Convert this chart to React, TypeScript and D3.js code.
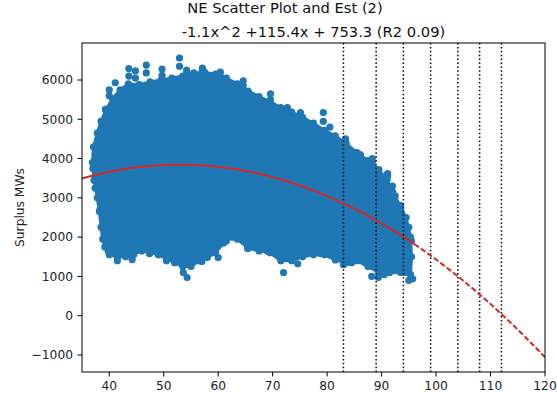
import React from "react";
import * as d3 from "d3";

// ---- data ----
const titleLine1 = "NE Scatter Plot and Est (2)";
const titleLine2 = "-1.1x^2 +115.4x + 753.3 (R2 0.09)";
const yLabel = "Surplus MWs";

const xLimits = [35, 120];
const yLimits = [-1433, 6942];
const xTicks = [40, 50, 60, 70, 80, 90, 100, 110, 120];
const yTicks = [-1000, 0, 1000, 2000, 3000, 4000, 5000, 6000];

// vertical dotted reference lines
const refLines = [83, 89, 94, 99, 104, 108, 112];

// quadratic fit coefficients (as drawn)
const fitCoef = [-1.09, 115.4, 790];
const fitSolidRange = [35, 96];
const fitDashedRange = [96, 120];

// envelope of the dense cloud of points: upper edge (left to right)
const cloudUpperX = [36.9, 37.1, 37.8, 38.5, 39.4, 40.6, 42.0, 43.5, 45.5, 47.5, 49.5, 51.5, 53.5, 55.5, 57.5, 59.5, 61.5, 63.5, 65.5, 67.5, 69.5, 71.5, 73.5, 75.5, 77.5, 79.5, 81.5, 83.5, 85.5, 87.5, 89.5, 91.0, 92.5, 93.5, 94.5, 95.3, 95.5];
const cloudUpperY = [3900, 4300, 4650, 4950, 5250, 5520, 5750, 5900, 5880, 5950, 6000, 6050, 6100, 6180, 6200, 6150, 6050, 5900, 5720, 5580, 5450, 5300, 5180, 5050, 4900, 4720, 4580, 4380, 4150, 3950, 3720, 3450, 3050, 2750, 2500, 2000, 1500];
// lower edge (right to left)
const cloudLowerX = [95.3, 93.5, 91.5, 89.5, 87.5, 85.5, 83.5, 81.5, 79.5, 77.5, 75.5, 73.5, 71.5, 69.5, 67.5, 65.5, 63.5, 62.0, 61.0, 59.5, 58.0, 56.5, 55.0, 53.5, 52.0, 50.5, 49.0, 47.5, 46.0, 44.5, 43.0, 41.5, 40.0, 39.2, 38.8, 38.5, 38.2, 37.8, 37.2];
const cloudLowerY = [1050, 1100, 1100, 1100, 1250, 1400, 1350, 1420, 1550, 1550, 1500, 1400, 1400, 1600, 1650, 1720, 1950, 2000, 1850, 1600, 1480, 1400, 1250, 1250, 1350, 1450, 1550, 1620, 1650, 1560, 1500, 1500, 1550, 1750, 1950, 2250, 2650, 3000, 3450];

// individual points around the edge of the cloud
const edgeX = [41.1, 43.6, 44.8, 46.8, 52.9, 49.7, 54.2, 57.1, 40.0, 60.4, 64.6, 65.4, 67.4, 69.6, 72.7, 75.1, 79.3, 83.4, 86.1, 88.3, 91.1, 93.5, 92.0, 95.0, 95.5,
  95.7, 95.0, 94.2, 89.4, 88.2, 72.0, 54.3, 53.6, 41.5, 44.2, 47.4, 65.4, 74.6, 69.0, 78.8, 60.0, 57.0, 50.5, 39.8, 83.0, 85.0,
  43.6, 44.8, 46.8, 52.9, 49.7, 54.2, 57.1, 39.3, 40.0, 60.4, 64.6, 69.6, 72.7, 79.3, 80.5, 83.4, 86.1, 88.3, 91.1, 93.5, 92.0,
  37.0, 37.4, 38.3, 90.5, 93.0, 84.5, 61.5, 62.8];
const edgeY = [5930, 6290, 6230, 6380, 6560, 6280, 6250, 6300, 5750, 6200, 5980, 5680, 5550, 5650, 5300, 5170, 5170, 4505, 4100, 4000, 3620, 2800, 3300, 2250, 1900,
  940, 900, 1100, 970, 1000, 1100, 970, 1100, 1400, 1430, 1580, 1710, 1320, 1650, 1580, 1480, 1380, 1400, 1650, 1300, 1480,
  6100, 6050, 6180, 6350, 6120, 6150, 6250, 5250, 5600, 6100, 5850, 5500, 5200, 4950, 4800, 4420, 4050, 3900, 3550, 2700, 3150,
  3750, 3250, 2700, 1050, 1150, 1350, 1900, 2000];

// ---- layout ----
const W = 557;
const H = 393;
const left = 82;
const right = 545;
const top = 43;
const bottom = 372;
const FONT = "DejaVu Sans, sans-serif";
const BLUE = "#1f77b4";
const RED = "#d62728";

export default function App() {
  const x = d3.scaleLinear().domain(xLimits).range([left, right]);
  const y = d3.scaleLinear().domain(yLimits).range([bottom, top]);

  const cloudPts: [number, number][] = [
    ...cloudUpperX.map((v, i) => [v, cloudUpperY[i]] as [number, number]),
    ...cloudLowerX.map((v, i) => [v, cloudLowerY[i]] as [number, number]),
  ];
  const cloudPath = d3
    .line<[number, number]>()
    .x((d) => x(d[0]))
    .y((d) => y(d[1]))
    .curve(d3.curveLinearClosed)(cloudPts) || "";

  const fit = (v: number) => fitCoef[0] * v * v + fitCoef[1] * v + fitCoef[2];
  const lineGen = d3
    .line<number>()
    .x((d) => x(d))
    .y((d) => y(fit(d)));
  const solidXs = d3.range(fitSolidRange[0], fitSolidRange[1] + 0.001, 0.5);
  const dashedXs = d3.range(fitDashedRange[0], fitDashedRange[1] + 0.001, 0.5);

  return (
    <svg
      width={W}
      height={H}
      style={{ position: "absolute", left: 0, top: 0, background: "#fff" }}
      fontFamily={FONT}
    >
      <defs>
        <clipPath id="plotClip">
          <rect x={left} y={top} width={right - left} height={bottom - top} />
        </clipPath>
      </defs>
      <rect x={0} y={0} width={W} height={H} fill="#fff" />

      <text x={285} y={13} fontSize={14.7} textAnchor="middle" fill="#111">
        {titleLine1}
      </text>
      <text x={(left + right) / 2} y={36.5} fontSize={14.7} textAnchor="middle" fill="#111">
        {titleLine2}
      </text>

      <g clipPath="url(#plotClip)">
        <path d={cloudPath} fill={BLUE} stroke={BLUE} strokeWidth={3} strokeLinejoin="round" />
        {cloudPts.map((p, i) => (
          <circle key={"c" + i} cx={x(p[0])} cy={y(p[1])} r={3.6} fill={BLUE} />
        ))}
        {edgeX.map((v, i) => (
          <circle key={i} cx={x(v)} cy={y(edgeY[i])} r={3.6} fill={BLUE} />
        ))}
        {refLines.map((v) => (
          <line
            key={v}
            x1={x(v)}
            x2={x(v)}
            y1={top}
            y2={bottom}
            stroke="#000"
            strokeWidth={1.5}
            strokeDasharray="1.5,2.4"
          />
        ))}
        <path d={lineGen(solidXs) || ""} fill="none" stroke={RED} strokeWidth={2} />
        <path
          d={lineGen(dashedXs) || ""}
          fill="none"
          stroke={RED}
          strokeWidth={2}
          strokeDasharray="5.5,2.5"
        />
      </g>

      <rect
        x={left}
        y={top}
        width={right - left}
        height={bottom - top}
        fill="none"
        stroke="#000"
        strokeWidth={1}
      />

      {xTicks.map((t) => (
        <g key={t}>
          <line x1={x(t)} x2={x(t)} y1={bottom} y2={bottom + 4.5} stroke="#000" strokeWidth={1} />
          <text x={x(t)} y={390} fontSize={12.25} textAnchor="middle" fill="#222">
            {t}
          </text>
        </g>
      ))}
      {yTicks.map((t) => (
        <g key={t}>
          <line x1={left - 4.5} x2={left} y1={y(t)} y2={y(t)} stroke="#000" strokeWidth={1} />
          <text x={left - 9} y={y(t)} dy="0.35em" fontSize={12.25} textAnchor="end" fill="#222">
            {t < 0 ? "\u2212" + Math.abs(t) : t}
          </text>
        </g>
      ))}

      <text
        transform={`translate(24, ${(top + bottom) / 2}) rotate(-90)`}
        fontSize={12.25}
        textAnchor="middle"
        fill="#222"
      >
        {yLabel}
      </text>
    </svg>
  );
}
